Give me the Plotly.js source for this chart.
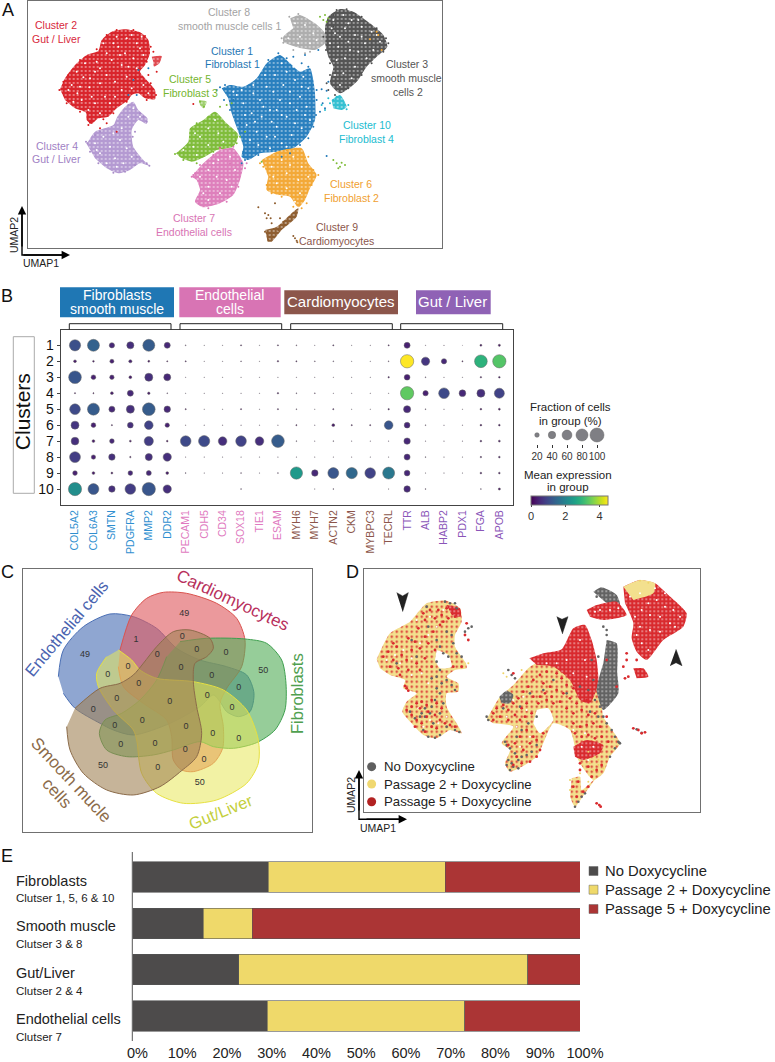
<!DOCTYPE html>
<html><head><meta charset="utf-8">
<script src="https://cdn.plot.ly/plotly-3.0.1.min.js"></script>
<style>html,body{margin:0;padding:0;background:#fff}</style></head>
<body><div id="chart" style="width:775px;height:1062px"></div>
<script>
// ---------- Panel A: UMAP cluster outlines and cells (UMAP units)
const c2Outline=[[180,268],[195,235],[225,195],[260,165],[295,152],[305,120],[335,95],[375,88],[420,97],[445,120],[450,160],[435,195],[420,215],[440,240],[465,270],[465,298],[435,295],[415,280],[395,285],[385,300],[350,325],[325,350],[295,355],[275,372],[260,360],[258,338],[225,325],[195,300]];
const c2Blob=[[455,170],[485,168],[478,190],[462,200],[460,185]];
const c4Outline=[[260,432],[285,395],[340,375],[352,350],[375,320],[400,305],[415,330],[442,355],[440,372],[415,360],[395,390],[400,440],[430,480],[448,497],[420,490],[390,510],[355,520],[320,505],[285,475]];
const c5Outline=[[528,460],[565,425],[570,385],[610,360],[645,335],[680,370],[715,405],[700,440],[650,450],[615,470],[575,485],[540,472]];
const c5Blob=[[597,300],[620,305],[610,325],[600,315]];
const c7Outline=[[575,530],[610,490],[660,450],[700,445],[730,490],[720,540],[700,585],[660,610],[610,622],[585,605],[600,570],[590,540]];
const c1Outline=[[665,265],[690,255],[730,260],[770,235],[800,190],[840,165],[870,190],[900,215],[930,205],[940,240],[945,280],[945,360],[920,410],[880,445],[830,455],[780,460],[745,480],[725,470],[730,440],[715,395],[695,340],[685,295]];
const c3Outline=[[975,80],[985,50],[1020,27],[1060,35],[1110,70],[1150,105],[1162,140],[1130,170],[1100,200],[1070,245],[1020,280],[990,250],[1000,200],[985,170],[975,130]];
const c8Outline=[[870,55],[900,45],[945,70],[975,100],[975,130],[945,150],[905,145],[850,125],[850,110],[880,85]];
const c10Outline=[[995,300],[1020,285],[1040,320],[1025,330],[1000,325]];
const c6Outline=[[785,480],[830,455],[905,445],[925,490],[950,525],[930,565],[915,600],[895,622],[870,590],[835,585],[800,570],[805,530]];
const c9Outline=[[795,690],[830,680],[880,635],[895,625],[890,650],[845,690],[815,725],[803,725]];
const c1Stray=[[950,270],[965,268],[980,272],[968,310],[975,325],[985,245],[960,335],[880,170],[905,190],[860,175],[650,270],[672,300],[690,330],[735,480],[725,490],[870,460],[845,470],[415,210],[400,240],[385,285],[410,285],[445,205],[980,468],[915,165],[955,150],[950,300],[948,345],[925,200],[835,160],[805,180],[660,262],[675,255],[700,300],[720,370],[730,455],[775,465],[900,435],[925,415],[940,380]];
const c2Stray=[[460,155],[470,215],[445,225],[405,235],[420,270],[265,375],[300,385],[320,370],[350,395],[580,312],[660,445],[178,270],[190,245],[205,225],[240,180],[290,148],[320,105],[350,90],[400,90],[435,108],[452,140],[440,185],[452,250],[468,285],[440,300],[380,305],[340,340],[310,358],[270,368],[240,335],[200,310]];
const c3Stray=[[985,270],[1005,285],[980,250],[990,225],[1165,130],[1000,80],[1000,45],[970,110],[978,150],[990,190],[1010,30],[1040,28],[1085,50],[1130,85],[1158,115],[1150,155],[1115,190],[1085,225],[1045,265]];
const c4Stray=[[430,350],[440,365],[440,490],[448,497],[410,470],[300,395],[285,405],[262,430],[258,425],[270,455],[295,490],[340,518],[375,515],[405,495],[398,410],[405,395],[385,315],[420,340]];
const c5Stray=[[960,50],[970,60],[980,65],[975,45],[985,55],[1000,480],[1010,490],[1020,500],[1035,495],[1025,488],[1015,505],[660,320],[680,315],[695,310],[720,410],[735,395],[600,305],[612,320],[785,485],[525,462],[550,480],[590,490],[640,455],[710,430],[625,350],[590,370]];
const c6Stray=[[1130,95],[1110,118],[1145,150],[1135,105],[880,620],[905,625],[955,525],[780,490],[790,500],[800,555],[815,580],[925,470],[940,510],[935,555],[920,610],[860,450],[845,590]];
const c7Stray=[[600,495],[575,530],[585,520],[700,440],[690,490],[740,490],[660,445],[580,525],[595,610],[625,625],[680,605],[715,560],[735,505],[640,465]];
const c8Stray=[[915,160],[880,150],[930,155],[850,128],[845,115],[868,50],[895,42]];
const c9Stray=[[775,622],[825,610],[795,640],[805,645],[812,655],[800,655],[815,670],[840,655],[850,665],[880,708],[885,715],[890,722],[892,727],[870,650],[795,695],[808,700],[820,710],[835,690],[855,675],[805,720]];
const c10Stray=[[965,315],[975,330],[990,310],[985,295],[1000,300],[1040,328],[1010,290],[1045,315]];
const gapsA=[[215,255],[232,280],[250,232],[268,262],[245,300],[285,215],[300,250],[320,225],[335,180],[355,140],[380,115],[410,130],[430,165],[400,175],[365,195],[345,245],[315,290],[285,310],[265,330],[290,185],[320,160],[350,110],[395,105],[425,110],[410,205],[380,230],[365,270],[395,265],[330,310],[300,340],[230,215],[205,270],[220,305],[255,190],[275,290],[310,130],[340,130],[375,160],[420,145],[445,280],[430,255],[345,290],[270,235],[240,260],[385,200],[360,165],[300,205],
[760,280],[780,300],[800,260],[825,225],[845,190],[860,215],[885,240],[910,230],[925,265],[900,290],[870,275],[840,300],[810,330],[785,350],[755,340],[730,310],[710,285],[740,375],[770,395],[800,410],[830,380],[860,350],[890,330],[920,320],[930,360],[905,385],[875,405],[845,430],[810,445],[775,435],[750,420],[820,275],[850,255],[795,225],[760,255],[700,275],[725,270],[735,345],[880,200],[915,345],[885,370],[845,345],[815,365],[790,320],[765,365],[825,410],[860,440],[905,260],[830,330],[870,310],
[1000,60],[1030,45],[1055,60],[1085,80],[1115,95],[1140,125],[1120,150],[1095,130],[1065,105],[1035,85],[1005,100],[990,130],[1015,140],[1045,125],[1075,155],[1100,175],[1065,200],[1035,175],[1010,180],[1030,220],[1055,235],[1020,255],[1005,225],[1050,150],[1085,110],[1130,105],[1020,110],[1075,60],[1045,70],[995,85],
[285,430],[310,410],[340,400],[365,385],[385,350],[400,325],[300,460],[330,440],[360,420],[380,445],[345,475],[320,490],[370,490],[395,470],[290,450],[350,500],[420,350],
[550,450],[580,440],[600,410],[625,385],[655,400],[590,465],[625,435],[670,425],[645,360],[585,400],
[600,530],[625,510],[655,480],[690,470],[705,510],[680,540],[650,530],[625,560],[660,580],[695,560],[625,600],[610,580],[640,490],
[815,500],[845,480],[880,470],[905,500],[925,530],[895,540],[860,520],[830,550],[860,565],[900,580],[885,605],[820,530],[870,495],
[885,70],[915,75],[940,100],[900,110],[865,115],[930,130],[950,120],[895,130]];
const clusterLabels=[["Cluster 2",168,76,"#d8273c"],["Gut / Liver",170,118,"#d8273c"],["Cluster 8",688,36,"#a3a3a3"],["smooth muscle cells 1",688,78,"#a3a3a3"],["Cluster 1",697,152,"#1f77b4"],["Fibroblast 1",697,192,"#1f77b4"],["Cluster 5",570,238,"#74b52e"],["Fibroblast 3",570,278,"#74b52e"],["Cluster 3",1220,192,"#555555"],["smooth muscle",1220,235,"#555555"],["cells 2",1225,276,"#555555"],["Cluster 10",1100,375,"#20bcd0"],["Fibroblast 4",1098,416,"#20bcd0"],["Cluster 4",170,437,"#9f7fc4"],["Gut / Liver",170,478,"#9f7fc4"],["Cluster 6",1053,552,"#f0a030"],["Fibroblast 2",1053,594,"#f0a030"],["Cluster 7",582,655,"#d874b4"],["Endothelial cells",582,696,"#d874b4"],["Cluster 9",1010,680,"#8c564b"],["Cardiomyocytes",1010,722,"#8c564b"]];

// ---------- Panel B: dot plot
const genes=["COL5A2","COL6A3","SMTN","PDGFRA","MMP2","DDR2","PECAM1","CDH5","CD34","SOX18","TIE1","ESAM","MYH6","MYH7","ACTN2","CKM","MYBPC3","TECRL","TTR","ALB","HABP2","PDX1","FGA","APOB"];
const geneGroupColors=["#2f8fd0","#e07ac0","#8c564b","#8a55b8"];
const clusters=[1,2,3,4,5,6,7,8,9,10];
const fractionPct=[
[73,80,25,38,80,30, 2,1,1,3,1,3, 2,1,3,1,1,3, 30,1,1,.5,6,7],
[10,5,17,12,6,3, 3,1,1,2,1,4, 3,2,2,1,1,2, 93,47,25,3,87,93],
[87,21,19,10,45,37, 1,1,1,1,1,1, 1,1,1,1,1,4, 28,2,1,1,4,5],
[3,3,10,30,8,2, 1,1,1,1,1,4, 2,2,1,1,1,1, 93,25,68,35,45,62],
[68,80,30,45,87,33, 3,1,1,3,1,3, 2,1,3,1,1,4, 38,2,1,1,5,6],
[45,21,3,28,50,19, 1,1,1,1,1,1, 3,1,10,3,3,50, 28,2,1,1,5,5],
[43,10,21,6,55,5, 68,73,50,68,50,87, 2,1,2,1,1,1, 33,1,1,1,5,6],
[70,19,33,4,38,47, 1,1,1,1,1,1, 1,1,1,1,1,1, 30,2,1,1,4,5],
[21,10,6,21,23,10, 2,1,1,2,1,2, 83,33,70,73,68,80, 28,1,1,1,5,5],
[93,70,33,68,93,47, 0,0,0,2,0,0, 0,1,2,0,0,1, 33,2,0,0,2,7]];
const meanExpr=[
[1.1,1.4,.5,.6,1.3,.5, .1,.1,.1,.1,.1,.1, .1,.1,.1,.1,.1,.1, .4,.1,.1,.1,.2,.2],
[.3,.2,.4,.4,.2,.1, .1,.1,.1,.1,.1,.1, .1,.1,.1,.1,.1,.1, 4.5,.7,.5,.1,2.9,3.3],
[1.2,.4,.4,.3,.6,.5, .1,.1,.1,.1,.1,.1, .1,.1,.1,.1,.1,.2, .4,.1,.1,.1,.2,.2],
[.1,.1,.3,.5,.3,.1, .1,.1,.1,.1,.1,.1, .1,.1,.1,.1,.1,.1, 3.4,.4,1.0,.5,.6,.9],
[1.0,1.3,.5,.6,1.3,.5, .1,.1,.1,.1,.1,.1, .1,.1,.1,.1,.1,.2, .5,.1,.1,.1,.2,.2],
[.7,.4,.1,.6,.9,.4, .1,.1,.1,.1,.1,.1, .1,.1,.3,.1,.1,1.2, .5,.1,.1,.1,.2,.2],
[.6,.3,.5,.2,.8,.1, 1.0,1.0,.6,.9,.6,1.3, .1,.1,.1,.1,.1,.1, .5,.1,.1,.1,.2,.2],
[.8,.4,.6,.1,.6,.6, .1,.1,.1,.1,.1,.1, .1,.1,.1,.1,.1,.1, .5,.1,.1,.1,.2,.2],
[.4,.3,.2,.5,.5,.3, .1,.1,.1,.1,.1,.1, 2.4,.5,1.2,1.5,.9,1.8, .5,.1,.1,.1,.2,.2],
[2.2,1.2,.6,.8,1.2,.6, .1,.1,.1,.1,.1,.1, .1,.1,.1,.1,.1,.1, .5,.1,.1,.1,.1,.2]];
const fractionLegend=[20,40,60,80,100];

// ---------- Panel C: five-set Venn
const vennEndothelial=[[175,350],[190,270],[250,200],[330,162],[400,170],[470,205],[530,265],[600,300],[680,320],[740,345],[762,400],[750,455],[715,470],[680,455],[660,425],[640,405],[600,440],[510,490],[400,525],[340,510],[300,490],[225,445],[190,400]];
const vennCardio=[[360,270],[395,165],[440,115],[490,97],[560,100],[650,130],[710,175],[735,240],[725,320],[680,385],[660,430],[670,500],[668,565],[640,610],[580,635],[545,630],[520,600],[515,530],[500,480],[430,430],[370,380],[355,320]];
const vennFibro=[[540,245],[620,235],[735,237],[800,250],[845,300],[858,370],[855,450],[825,510],[770,548],[700,565],[640,560],[600,545],[520,570],[460,585],[380,590],[320,570],[298,520],[315,480],[365,460],[420,420],[470,360],[500,290]];
const vennLiver=[[355,270],[395,300],[420,330],[470,355],[580,365],[670,390],[740,450],[775,540],[775,610],[740,670],[650,720],[550,730],[470,700],[425,640],[410,540],[400,510],[340,450],[295,380],[290,340],[320,290]];
const vennSmooth=[[225,445],[300,385],[360,370],[400,345],[430,310],[470,260],[520,215],[570,210],[630,235],[640,265],[620,290],[585,310],[580,365],[590,440],[605,520],[590,590],[545,632],[480,680],[400,705],[320,690],[250,640],[210,570],[200,500]];
const vennCounts=[[553,160,"49"],[408,238,"1"],[255,283,"49"],[547,231,"0"],[590,270,"0"],[678,279,"0"],[790,333,"50"],[472,285,"0"],[384,320,"0"],[543,323,"0"],[635,346,"0"],[716,384,"0"],[323,345,"0"],[416,370,"0"],[622,406,"0"],[696,444,"0"],[350,416,"0"],[509,426,"0"],[280,448,"0"],[344,497,"0"],[427,481,"0"],[558,500,"0"],[638,522,"0"],[716,536,"0"],[362,554,"0"],[465,550,"0"],[556,569,"0"],[612,600,"0"],[309,616,"50"],[473,624,"0"],[599,668,"50"]];
const vennLabels=[["Endothelial cells",200,205,-50,"#4a63b0",16.5],["Cardiomyocytes",700,120,25,"#b8305c",17],["Fibroblasts",893,400,-90,"#4fa04f",16.5],["Smooth mucle",215,660,47,"#8b6b4a",17],["cells",172,700,47,"#8b6b4a",17],["Gut/Liver",660,755,-22,"#c4cf3c",16.5]];

// ---------- Panel D: UMAP by condition
const dYellowLeft=[[110,298],[150,220],[210,185],[260,130],[320,122],[360,145],[365,185],[345,225],[345,260],[378,310],[380,325],[345,330],[320,350],[355,370],[355,395],[320,400],[320,440],[350,490],[365,520],[330,510],[290,535],[250,525],[215,490],[187,455],[200,425],[230,400],[190,385],[195,360],[150,345],[120,325]];
const dYellowBody=[[440,478],[480,410],[520,375],[570,320],[640,290],[700,330],[780,400],[790,470],[840,550],[810,590],[790,640],[760,660],[715,600],[690,510],[640,490],[590,590],[510,635],[495,610],[510,570],[485,550],[520,500],[460,490]];
const dHoleLeft=[[290,270],[325,285],[335,320],[300,325],[285,300]];
const dHoleBody=[[590,450],[625,445],[640,480],[600,520],[580,490]];
const dRedTop=[[568,295],[610,280],[665,268],[700,205],[735,195],[755,240],[770,300],[775,370],[750,430],[720,420],[690,360],[640,320],[590,315]];
const dGreyBody=[[800,240],[830,250],[832,340],[835,400],[790,450],[770,390],[790,310]];
const dGreyBlob=[[478,410],[500,392],[520,405],[510,430],[485,430]];
const dRedLower=[[700,560],[740,540],[790,555],[780,580],[730,600],[705,590]];
const dTail=[[695,655],[720,650],[725,690],[780,640],[790,625],[735,700],[705,740],[690,710]];
const dRedSmooth=[[850,80],[900,60],[945,70],[985,105],[1040,160],[1030,200],[970,240],[920,300],[890,275],[875,235],[880,190],[855,130]];
const dYellowCap=[[850,80],[900,60],[945,70],[940,100],[880,120]];
const dGreyTop=[[760,95],[785,82],[830,105],[840,135],[800,130]];
const dRedSM1=[[740,150],[770,135],[830,125],[860,165],[790,180],[750,170]];
const dRedFib4=[[880,325],[910,325],[925,350],[890,355]];
const dRedLeftTop=[[320,135],[360,145],[362,170],[335,165]];
const dGapPts=[[870,110],[900,100],[925,130],[950,120],[975,140],[1000,150],[1020,170],[990,190],[960,170],[930,165],[905,150],[885,170],[900,200],[930,210],[960,215],[905,250],[925,270],[890,225],[945,85],[1005,200],[975,100],[780,150],[810,150],[835,145],[765,155],[140,300],[165,285],[190,270],[215,295],[240,250],[265,225],[290,200],[230,180],[270,170],[310,150],[180,310],[215,345],[245,340],[265,370],[235,445],[270,480],[295,490],[320,470],[250,500],[680,300],[650,310],[620,310],[720,240],[735,300],[700,340],[740,350],[520,420],[550,410],[500,470],[560,450],[530,500],[570,530],[540,560],[735,520],[760,560],[725,560],[700,510],[745,600]];
const dRedLeft=[[130,290],[145,275],[160,300],[170,260],[185,285],[150,320],[175,325],[200,300],[215,270],[225,245],[240,265],[255,230],[205,235],[235,205],[255,180],[250,160],[270,150],[285,175],[305,165],[320,145],[325,175],[300,195],[280,215],[265,250],[285,270],[255,295],[230,310],[205,330],[180,345],[160,250],[240,330],[275,320],[310,185],[345,170],[295,150],[200,385],[195,378],[205,392],[215,440],[230,430],[245,425],[260,435],[275,420],[290,430],[305,445],[215,465],[230,480],[245,490],[260,470],[285,465],[300,480],[315,490],[330,495],[225,500],[255,515],[275,500],[240,445],[265,455],[290,505],[345,500],[200,450],[340,320],[365,320],[380,190],[375,225],[385,240]];
const dGreyLeft=[[290,240],[300,260],[310,280],[325,290],[340,250],[350,280],[365,290],[335,225],[320,215],[300,330],[290,350],[305,370],[320,360],[335,375],[345,390],[290,385],[300,400],[285,420],[270,460],[255,470],[240,470],[300,460],[280,490],[265,530],[285,533],[300,525],[250,510],[225,475],[210,455],[320,500],[345,510],[358,516],[385,205],[395,200],[375,215],[345,130],[330,130],[315,125],[260,140],[170,310],[230,290],[215,240],[265,200],[290,305],[275,355],[255,445],[245,460],[275,440],[310,430],[350,145]];
const dRedBody=[[460,460],[470,445],[490,435],[505,450],[520,430],[535,415],[550,395],[565,380],[580,360],[600,345],[620,335],[650,340],[665,355],[680,375],[700,385],[720,400],[740,420],[610,370],[630,380],[650,390],[670,400],[690,415],[710,430],[600,410],[620,420],[640,430],[580,410],[560,430],[545,445],[525,465],[505,480],[480,470],[460,480],[540,480],[555,470],[575,460],[595,430],[615,400],[635,410],[660,425],[680,445],[700,460],[725,450],[745,465],[765,460],[580,530],[560,510],[540,530],[525,550],[610,520],[590,540],[570,550],[550,570],[530,590],[520,615],[545,610],[570,605],[590,590],[600,570],[505,555],[700,490],[720,500],[740,495],[760,490],[780,500],[705,520],[725,530],[745,525],[765,535],[785,530],[805,545],[720,610],[745,620],[770,630],[785,615],[755,650],[715,665],[700,680],[730,695],[710,710],[745,680],[860,300],[850,320],[865,350],[855,355],[890,300],[905,520],[915,517],[895,510],[880,505],[770,730],[778,735],[782,740],[720,630],[830,380],[800,300],[860,280],[520,340],[800,470]];
const dGreyBodyPts=[[505,330],[515,345],[525,355],[490,445],[445,480],[440,470],[500,555],[495,545],[510,565],[525,580],[505,600],[520,620],[535,625],[510,630],[545,590],[560,585],[575,575],[590,555],[530,530],[545,510],[565,490],[590,470],[540,440],[570,400],[610,390],[640,360],[680,400],[720,380],[745,390],[760,360],[765,420],[780,440],[790,470],[800,490],[815,510],[825,530],[838,548],[825,565],[810,590],[775,470],[750,455],[705,740],[715,725],[725,710],[735,700],[800,210],[790,200],[770,110],[755,300],[775,290],[905,518],[890,508],[500,615],[515,610],[535,600],[835,545],[840,550],[800,225]];
const dYellowStray=[[490,340],[500,350],[545,330],[690,660],[745,665],[760,630],[775,600],[790,625],[720,640],[900,62],[925,68],[385,310],[745,575],[765,590],[750,610],[775,615],[690,690]];
const dArrowA=[[170,98],[188,108],[205,98],[188,155]];
const dArrowB=[[650,170],[666,178],[684,170],[667,222]];
const dArrowC=[[990,317],[1008,308],[1026,317],[1008,268]];
const conditions=["No Doxycycline","Passage 2 + Doxycycline","Passage 5 + Doxycycline"];

// ---------- Panel E: stacked bars
const groupNames=["Fibroblasts","Smooth muscle","Gut/Liver","Endothelial cells"];
const groupSubs=["Clutser 1, 5, 6 & 10","Clutser 3 & 8","Clutser 2 & 4","Clutser 7"];
const noDox=[30.3,15.8,23.7,30.1];
const passage2=[39.6,11.0,64.6,44.1];
const passage5=[30.1,73.2,11.7,25.8];
const pctTicks=[0,10,20,30,40,50,60,70,80,90,100];

// ---------- helpers
const W=775,H=1062;
const px=x=>x/W, py=y=>1-y/H;
const X=a=>a.map(p=>p[0]), Y=a=>a.map(p=>p[1]);
const dom=(a,b)=>[a/W,b/W], domY=(t,b)=>[1-b/H,1-t/H];
const traces=[],annotations=[],shapes=[];
function txt(x,y,text,size,color,opt){annotations.push(Object.assign({xref:'paper',yref:'paper',x:px(x),y:py(y),text,showarrow:false,xanchor:'center',yanchor:'middle',font:{family:'Liberation Sans, Arial, sans-serif',size,color:color||'#222'}},opt||{}));}
function blob(a,ax,color,speck){const t={type:'scatter',mode:'lines',x:X(a),y:Y(a),xaxis:'x'+ax,yaxis:'y'+ax,fill:'toself',fillcolor:color,line:{color,width:0,shape:'spline',smoothing:.6},hoverinfo:'skip',showlegend:false};
 if(speck)t.fillpattern={shape:'.',size:speck[1],solidity:speck[2],fgcolor:speck[0],bgcolor:color};
 traces.push(t);}
function dots(a,ax,color,size){traces.push({type:'scatter',mode:'markers',x:X(a),y:Y(a),xaxis:'x'+ax,yaxis:'y'+ax,marker:{color,size:size||2,opacity:1},hoverinfo:'skip',showlegend:false});}
function solid(a,ax,color){traces.push({type:'scatter',mode:'lines',x:X(a),y:Y(a),xaxis:'x'+ax,yaxis:'y'+ax,fill:'toself',fillcolor:color,line:{color,width:.5},hoverinfo:'skip',showlegend:false});}
function arrow(x0,y0,x1,y1){annotations.push({xref:'paper',yref:'paper',x:px(x1),y:py(y1),axref:'pixel',ayref:'pixel',ax:x0-x1,ay:y0-y1,text:'',showarrow:true,arrowhead:2,arrowsize:1.2,arrowwidth:1.4,arrowcolor:'#000'});}
const frame={showgrid:false,zeroline:false,showticklabels:false,ticks:'',showline:true,mirror:true,linecolor:'#707070',linewidth:1,fixedrange:true};

// ---------- A
const sp=['#ffffff',4,.1];
[[c2Outline,'#d9252c'],[c2Blob,'#e04a50'],[c4Outline,'#b49ad2'],[c5Outline,'#80bd3c'],[c5Blob,'#a0cf70'],[c7Outline,'#de80bc'],[c1Outline,'#2a80bf'],[c3Outline,'#555555'],[c8Outline,'#aeaeae'],[c10Outline,'#35c0d2'],[c6Outline,'#f3a938'],[c9Outline,'#8f5f32']].forEach(b=>blob(b[0],'',b[1],sp));
dots(gapsA,'','#ffffff',2);
[[c1Stray,'#1f78b8'],[c2Stray,'#d7191c'],[c3Stray,'#4d4d4d'],[c4Stray,'#a88cc8'],[c5Stray,'#7cbb35'],[c6Stray,'#f2a52f'],[c7Stray,'#dc78b8'],[c8Stray,'#a8a8a8'],[c9Stray,'#8c5a2b'],[c10Stray,'#25bccf']].forEach(s=>dots(s[0],'',s[1],2));
traces.forEach(t=>{t.xaxis='x';t.yaxis='y';});
const aX=l=>27.7+(l-83)/3, aY=l=>1+(l-3)/3;
clusterLabels.forEach(l=>txt(aX(l[1]),aY(l[2]),l[0],10.5,l[3]));
arrow(22,248,22,206);arrow(22,255,70,255);
shapes.push({type:'path',xref:'paper',yref:'paper',path:`M${px(22)},${py(210)} L${px(22)},${py(255)} L${px(66)},${py(255)}`,line:{color:'#000',width:1.4}});
txt(41,263,'UMAP1',10.5,'#222');txt(14,235,'UMAP2',10.5,'#222',{textangle:-90});

// ---------- B
const groupOf=i=>i<6?0:i<12?1:i<18?2:3;
const bx=[],by=[],bs=[],bc=[];
clusters.forEach((c,r)=>genes.forEach((g,i)=>{const f=fractionPct[r][i];if(f>0){bx.push(i);by.push(c);bs.push(14*Math.pow(f/100,.7));bc.push(meanExpr[r][i]);}}));
traces.push({type:'scatter',mode:'markers',x:bx,y:by,xaxis:'x2',yaxis:'y2',showlegend:false,hoverinfo:'skip',
 marker:{size:bs,opacity:1,color:bc,colorscale:'Viridis',cmin:0,cmax:4.5,line:{color:'#666',width:.5},
 colorbar:{orientation:'h',x:px(531),xanchor:'left',y:py(495.5),yanchor:'top',len:77,lenmode:'pixels',thickness:9,thicknessmode:'pixels',xpad:0,ypad:0,tickvals:[0,2,4],ticks:'outside',ticklen:2,tickfont:{size:11,family:'Liberation Sans',color:'#333'},outlinecolor:'#777',outlinewidth:1}}});
traces.push({type:'scatter',mode:'markers',x:fractionLegend,y:fractionLegend.map(()=>0),xaxis:'x3',yaxis:'y3',showlegend:false,hoverinfo:'skip',marker:{opacity:1,size:fractionLegend.map(f=>14*Math.pow(f/100,.7)),color:'#7f7f84',line:{color:'#666',width:.5}}});
[[60,174,287.3,317.3,'#1f77b4'],[179.3,280.7,287.3,317.3,'#d874b4'],[284.3,398,290.3,314.3,'#8c564b'],[416,490.7,290.3,314.3,'#8f62b5']].forEach(b=>shapes.push({type:'rect',xref:'paper',yref:'paper',x0:px(b[0]),x1:px(b[1]),y0:py(b[2]),y1:py(b[3]),fillcolor:b[4],line:{width:0}}));
txt(116.7,295,'Fibroblasts',14,'#fff');txt(116.7,309,'smooth muscle',14,'#fff');
txt(230,295,'Endothelial',14,'#fff');txt(230,309,'cells',14,'#fff');
txt(340.5,301.7,'Cardiomyocytes',15,'#fff');txt(453,301.7,'Gut / Liver',15,'#fff');
[[69.3,171],[180,281.7],[290.7,392.3],[400.7,502.7]].forEach(b=>shapes.push({type:'path',xref:'paper',yref:'paper',path:`M${px(b[0])},${py(329.5)} L${px(b[0])},${py(323.7)} L${px(b[1])},${py(323.7)} L${px(b[1])},${py(329.5)}`,line:{color:'#222',width:1}}));
shapes.push({type:'rect',xref:'paper',yref:'paper',x0:px(13.3),x1:px(34.3),y0:py(336.7),y1:py(493.3),line:{color:'#aaa',width:1},fillcolor:'rgba(0,0,0,0)'});
txt(22.5,411.7,'Clusters',21,'#111',{textangle:-90});
txt(570.7,406.7,'Fraction of cells',11.5,'#222');txt(570.7,421,'in group (%)',11.5,'#222');
txt(568,475,'Mean expression',11.5,'#222');txt(568,487,'in group',11.5,'#222');

// ---------- C
[[vennEndothelial,'#4a6fb5','rgba(74,111,181,.62)'],[vennCardio,'#d9534f','rgba(222,90,95,.62)'],[vennFibro,'#3f9f4f','rgba(85,175,90,.62)'],[vennLiver,'#e6e040','rgba(232,232,90,.55)'],[vennSmooth,'#8b6b4a','rgba(160,130,85,.6)']].forEach(v=>traces.push({type:'scatter',mode:'lines',x:X(v[0]),y:Y(v[0]),xaxis:'x4',yaxis:'y4',fill:'toself',fillcolor:v[2],line:{color:v[1],width:1,shape:'spline',smoothing:.8},hoverinfo:'skip',showlegend:false}));
traces.push({type:'scatter',mode:'text',x:vennCounts.map(c=>c[0]),y:vennCounts.map(c=>c[1]),text:vennCounts.map(c=>c[2]),xaxis:'x4',yaxis:'y4',textfont:{size:9,family:'Liberation Sans',color:'#333'},hoverinfo:'skip',showlegend:false});
vennLabels.forEach(l=>txt(l[1]/3,l[2]/3+560,l[0],l[5],l[4],{textangle:l[3]}));

// ---------- D
const Yb='#f3e08e',Rd='#d92a2e',Gy='#636363';
const spRed=[Rd,5,.16],spWhite=['#ffffff',4,.1];
blob(dYellowLeft,5,Yb,spRed);blob(dYellowBody,5,Yb,spRed);blob(dTail,5,Yb,spRed);
blob(dHoleLeft,5,'#ffffff');blob(dHoleBody,5,'#ffffff');
blob(dRedTop,5,Rd,spWhite);blob(dRedLower,5,Rd,spWhite);blob(dRedLeftTop,5,Rd,spWhite);
blob(dGreyBody,5,Gy,spWhite);blob(dGreyBlob,5,Gy,spWhite);
blob(dRedSmooth,5,Rd,spWhite);blob(dYellowCap,5,Yb);blob(dGreyTop,5,Gy,spWhite);blob(dRedSM1,5,Rd,spWhite);blob(dRedFib4,5,Rd,spWhite);
dots(dGapPts,5,'#ffffff',2);
dots(dGreyLeft,5,Gy,2.6);dots(dGreyBodyPts,5,Gy,2.6);dots(dYellowStray,5,'#eed468',2);dots(dRedLeft,5,Rd,2.8);dots(dRedBody,5,Rd,2.8);
[dArrowA,dArrowB,dArrowC].forEach(a=>solid(a,5,'#222'));
const legDotY=[620,672,725],legColors=['#5f5f5f','#f0d870','#b22222'];
traces.push({type:'scatter',mode:'markers',x:legDotY.map(()=>95),y:legDotY,xaxis:'x5',yaxis:'y5',marker:{size:9,color:legColors,opacity:1},hoverinfo:'skip',showlegend:false});
conditions.forEach((c,i)=>txt(381.5,560+legDotY[i]/3,c,13.2,'#222',{xanchor:'left'}));
shapes.push({type:'path',xref:'paper',yref:'paper',path:`M${px(359)},${py(774)} L${px(359)},${py(819.3)} L${px(403)},${py(819.3)}`,line:{color:'#000',width:1.4}});
arrow(359,812,359,770);arrow(365,819.3,407,819.3);
txt(378,828,'UMAP1',10.5,'#222');txt(351,795,'UMAP2',10.5,'#222',{textangle:-90});

// ---------- E
[[noDox,'#4d4b4b',conditions[0]],[passage2,'#efd96a',conditions[1]],[passage5,'#ab3535',conditions[2]]].forEach(s=>traces.push({type:'bar',orientation:'h',y:groupNames,x:s[0],name:s[2],xaxis:'x6',yaxis:'y6',marker:{color:s[1],line:{color:'#555',width:.6}},hoverinfo:'skip',showlegend:false}));
const eY=[877,923,969.5,1015.5];
groupNames.forEach((g,i)=>{txt(13.5,eY[i]+3.5,g,14.5,'#222',{xanchor:'left'});txt(13.5,eY[i]+21,groupSubs[i],11.5,'#222',{xanchor:'left'});});
[[871,'#4d4b4b'],[889.7,'#efd96a'],[909,'#ab3535']].forEach((l,i)=>{shapes.push({type:'rect',xref:'paper',yref:'paper',x0:px(589),x1:px(598),y0:py(l[0]-4.5),y1:py(l[0]+4.5),fillcolor:l[1],line:{color:'#666',width:.5}});txt(603,l[0],conditions[i],14.8,'#222',{xanchor:'left'});});
shapes.push({type:'line',xref:'paper',yref:'paper',x0:px(132.3),x1:px(132.3),y0:py(852),y1:py(1041),line:{color:'#555',width:1}});

// panel letters
[['A',8,10],['B',7,296],['C',7,572],['D',352,572],['E',7,856]].forEach(l=>txt(l[1],l[2],l[0],18,'#111'));

const layout={width:W,height:H,margin:{l:0,r:0,t:0,b:0},paper_bgcolor:'#fff',plot_bgcolor:'#fff',showlegend:false,barmode:'stack',bargap:.338,
 xaxis:Object.assign({},frame,{domain:dom(27.7,442.3),range:[83,1327]}),
 yaxis:Object.assign({},frame,{domain:domY(1,248.3),range:[745,3]}),
 xaxis2:{domain:dom(60.7,513),range:[-.775,23.74],tickvals:genes.map((g,i)=>i),ticktext:genes.map((g,i)=>`<span style="color:${geneGroupColors[groupOf(i)]}">${g}</span>`),tickangle:-90,tickfont:{size:10.5,family:'Liberation Sans'},showgrid:false,zeroline:false,showline:true,mirror:true,linecolor:'#444',linewidth:1,ticks:'',ticklen:7,tickcolor:'rgba(0,0,0,0)',fixedrange:true,anchor:'y2'},
 yaxis2:{domain:domY(329.5,505),range:[11,.01],tickvals:clusters,tickfont:{size:14,family:'Liberation Sans',color:'#111'},showgrid:false,zeroline:false,showline:true,mirror:true,linecolor:'#444',linewidth:1,ticks:'outside',ticklen:3,tickcolor:'#444',fixedrange:true,anchor:'x2'},
 xaxis3:{domain:dom(522,612),range:[0,120],tickvals:fractionLegend,tickangle:0,ticks:'outside',ticklen:3,tickcolor:'#333',tickfont:{size:10,family:'Liberation Sans',color:'#333'},showgrid:false,zeroline:false,showline:false,fixedrange:true,anchor:'y3'},
 yaxis3:{domain:domY(426,444),range:[-1,1],visible:false,fixedrange:true,anchor:'x3'},
 xaxis4:Object.assign({},frame,{domain:dom(22.7,312.3),range:[68,937],anchor:'y4'}),
 yaxis4:Object.assign({},frame,{domain:domY(569,832.3),range:[817,27],anchor:'x4'}),
 xaxis5:Object.assign({},frame,{domain:dom(364.3,700),range:[73,1080],anchor:'y5'}),
 yaxis5:Object.assign({},frame,{domain:domY(569.3,811.7),range:[755,28],anchor:'x5'}),
 xaxis6:{domain:dom(132.5,580),range:[0,100],tickvals:pctTicks,ticktext:pctTicks.map(t=>t+'%'),tickangle:0,ticklabelshift:5,ticklabelstandoff:3,tickfont:{size:14.5,family:'Liberation Sans',color:'#222'},ticks:'',showgrid:false,zeroline:false,showline:false,fixedrange:true,anchor:'y6'},
 yaxis6:{domain:domY(854,1039),autorange:'reversed',showticklabels:false,ticks:'',showgrid:false,zeroline:false,showline:false,fixedrange:true,anchor:'x6'},
 annotations,shapes};
Plotly.newPlot('chart',traces,layout,{displayModeBar:false,staticPlot:true});
</script></body></html>
